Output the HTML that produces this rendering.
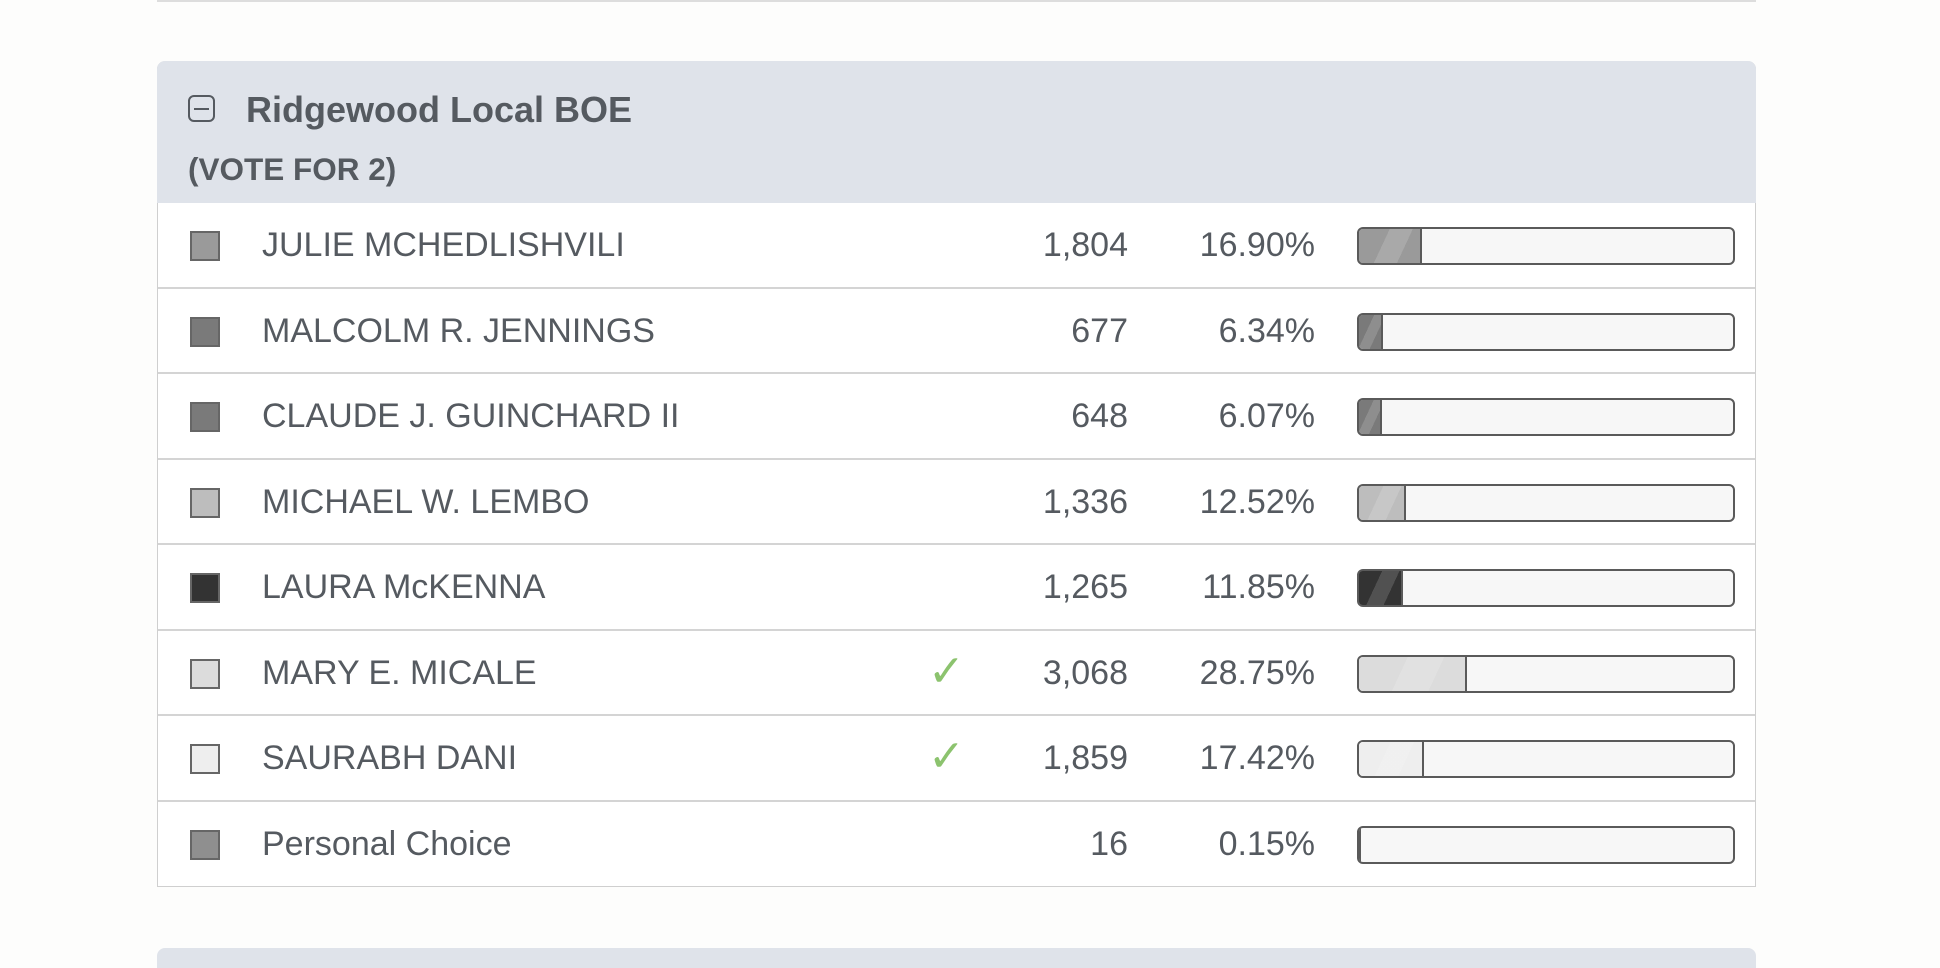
<!DOCTYPE html>
<html><head><meta charset="utf-8"><style>
body{margin:0;width:1940px;height:954px;background:#fdfdfc;position:relative;overflow:hidden;font-family:"Liberation Sans",sans-serif;color:#555a60}
.abs{position:absolute}
</style></head><body>
<div class="abs" style="left:157px;top:0;width:1599px;height:2px;background:#ddd"></div>
<div class="abs" style="left:157px;top:61px;width:1597px;height:825px;border:1px solid #cfcfcf;border-top:none;border-radius:8px 8px 0 0;background:#fff">
 <div class="abs" style="left:-1px;top:0;width:1599px;height:142px;background:#dfe3ea;border-radius:8px 8px 0 0"></div>
 <div class="abs" style="left:30px;top:34px;width:27px;height:27px;border:2px solid #555a60;border-radius:6px;box-sizing:border-box"><div style="position:absolute;left:4px;right:4px;top:10.5px;height:2px;background:#555a60"></div></div>
 <div class="abs" style="left:88px;top:27px;font-size:36px;font-weight:bold;line-height:44px">Ridgewood Local BOE</div>
 <div class="abs" style="left:30px;top:90px;font-size:31.5px;font-weight:bold;line-height:36px">(VOTE FOR 2)</div>
 <div id="rows"></div>
</div>
<div class="abs" style="left:157px;top:948px;width:1599px;height:20px;background:#dfe3ea;border-radius:8px 8px 0 0"></div>
<script>
const names=["JULIE MCHEDLISHVILI","MALCOLM R. JENNINGS","CLAUDE J. GUINCHARD II","MICHAEL W. LEMBO","LAURA McKENNA","MARY E. MICALE","SAURABH DANI","Personal Choice"];
const votes=["1,804","677","648","1,336","1,265","3,068","1,859","16"];
const pcts=[16.90,6.34,6.07,12.52,11.85,28.75,17.42,0.15];
const winners=[false,false,false,false,false,true,true,false];
const colors=["#9a9a9a","#7a7a7a","#7a7a7a","#bdbdbd","#333333","#dcdcdc","#eeeeee","#8f8f8f"];
const rows=document.getElementById('rows');
const rowH=85.5, top0=142;
names.forEach((n,i)=>{
 const r=document.createElement('div');
 
 
 r.className='abs';
 r.style.cssText=`left:0;top:${top0+i*rowH}px;width:1597px;height:${rowH}px;${i<names.length-1?'border-bottom:2px solid #d4d4d4;box-sizing:border-box;':''}`;
 const sw=document.createElement('div');
 
 
 sw.className='abs';
 sw.style.cssText=`left:32px;top:28px;width:30px;height:30px;box-sizing:border-box;border:2px solid #666;background:${colors[i]}`;
 r.appendChild(sw);
 const nm=document.createElement('div');
 
 
 nm.className='abs';
 nm.style.cssText='left:104px;top:22px;font-size:34px;line-height:40px';
 nm.textContent=n;r.appendChild(nm);
 if(winners[i]){const c=document.createElement('div');
  
  
  c.className='abs';c.style.cssText='left:770px;top:16px;font-size:44px;color:#8cc36e;line-height:50px';c.textContent='✓';r.appendChild(c);}
 const v=document.createElement('div');
 
 
 v.className='abs';v.style.cssText='right:627px;top:22px;font-size:34px;line-height:40px;text-align:right';v.textContent=votes[i];r.appendChild(v);
 const p=document.createElement('div');
 
 
 p.className='abs';p.style.cssText='right:440px;top:22px;font-size:34px;line-height:40px;text-align:right';p.textContent=pcts[i].toFixed(2)+'%';r.appendChild(p);
 const bar=document.createElement('div');
 
 
 bar.className='abs';bar.style.cssText='left:1199px;top:24px;width:378px;height:38px;box-sizing:border-box;border:2px solid #5a5a5a;border-radius:6px;background:#f7f7f7;overflow:hidden';
 const f=document.createElement('div');
 
 
 f.style.cssText=`height:100%;width:${pcts[i]}%;background:linear-gradient(115deg,${colors[i]} 0 40%,rgba(255,255,255,0.15) 40% 70%,${colors[i]} 70%);background-color:${colors[i]};border-right:2px solid #5a5a5a;box-sizing:border-box`;
 bar.appendChild(f);r.appendChild(bar);
 rows.appendChild(r);
});
</script>
</body></html>
